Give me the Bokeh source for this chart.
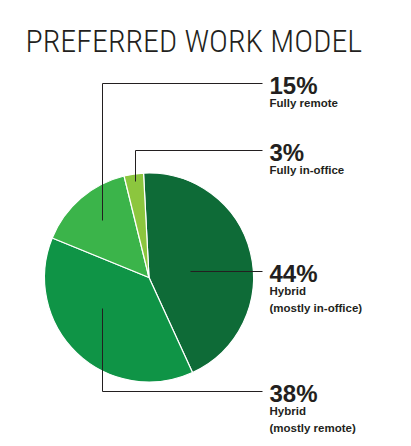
import numpy as np

from bokeh.core.properties import value
from bokeh.embed import file_html
from bokeh.models import ColumnDataSource, Range1d
from bokeh.plotting import figure
from bokeh.resources import INLINE

TITLE = "PREFERRED WORK MODEL"
shares = [44, 38, 15, 3]
pct_labels = ["44%", "38%", "15%", "3%"]
names = ["Hybrid\n(mostly in-office)", "Hybrid\n(mostly remote)",
         "Fully remote", "Fully in-office"]
colors = ["#0e6b37", "#0f9446", "#3bb44a", "#8cc63e"]

# layout, in pixels (y grows downwards, flipped below)
CX, CY, R = 148.5, 277, 104.5
START = -3  # degrees clockwise from 12 o'clock
anchor_x = [190, 102, 102, 135]
anchor_y = [271, 308, 220, 181]
leader_y = [271, 391, 83, 150]
LEADER_END = 262
LABEL_X = 269
INK = "#231f20"
W, H = 411, 446

p = figure(
    width=W,
    height=H,
    x_range=Range1d(0, W),
    y_range=Range1d(-H, 0),
    x_axis_location=None,
    y_axis_location=None,
    toolbar_location=None,
    output_backend="svg",
    min_border=0,
)
p.grid.visible = False
p.outline_line_color = None
p.background_fill_color = "white"

# slices, clockwise from the top
ends = START + 360 * np.cumsum(shares) / 100
starts = ends - 360 * np.array(shares) / 100
pie = ColumnDataSource(dict(
    start=np.radians(90 - starts),
    end=np.radians(90 - ends),
    color=colors,
))
p.wedge(x=CX, y=-CY, radius=R, start_angle="start", end_angle="end",
        direction="clock", fill_color="color", line_color="white",
        line_width=1.2, source=pie)

# leader lines
xs = [[ax, ax, LEADER_END] for ax in anchor_x]
ys = [[-ay, -ly, -ly] for ay, ly in zip(anchor_y, leader_y)]
p.multi_line(xs, ys, line_color=INK, line_width=1)

p.text([LABEL_X] * 4, [-(ly + 1.5) for ly in leader_y], text=pct_labels,
       text_font=value("Liberation Sans"), text_font_style="bold",
       text_font_size="24px", text_color=INK, text_baseline="middle")

# description lines under each percentage
sub_x, sub_y, sub_text = [], [], []
for ly, name in zip(leader_y, names):
    for i, line in enumerate(name.split("\n")):
        sub_x.append(LABEL_X)
        sub_y.append(-(ly + 19.5 + 17 * i))
        sub_text.append(line)
p.text(sub_x, sub_y, text=sub_text,
       text_font=value("Liberation Sans"), text_font_style="bold",
       text_font_size="11.5px", text_color=INK, text_baseline="middle")

p.text([25], [-40], text=[TITLE],
       text_font=value("'Roboto Condensed Light', 'Roboto Light', Roboto"),
       text_font_size="32px", text_color=INK, text_baseline="middle")

open("out.html", "w").write(file_html(p, INLINE))
